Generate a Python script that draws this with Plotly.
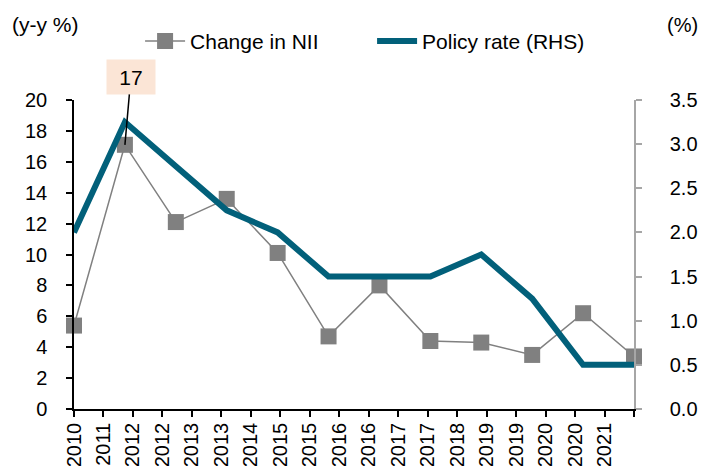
import numpy as np
import plotly.graph_objects as go

years = [2010, 2011, 2012, 2013, 2014, 2015, 2016, 2017, 2018, 2019, 2020, 2021]
nii_change = [5.4, 17.1, 12.1, 13.6, 10.1, 4.7, 8.0, 4.4, 4.3, 3.5, 6.2, 3.4]
policy_rate = [2.0, 3.25, 2.75, 2.25, 2.0, 1.5, 1.5, 1.5, 1.75, 1.25, 0.5, 0.5]
tick_labels = ["2010", "2011", "2012", "2012", "2013", "2013", "2014", "2015", "2015",
               "2016", "2016", "2017", "2017", "2018", "2019", "2019", "2020", "2020", "2021", ""]

FONT = "Liberation Sans, Arial, sans-serif"
TEAL = "#02607A"
GRAY = "#808080"
FS = 20

tickvals = list(np.linspace(years[0], years[-1], len(tick_labels)))

fig = go.Figure()
fig.add_trace(go.Scatter(
    x=years, y=nii_change, name="Change in NII", mode="lines+markers",
    line=dict(color=GRAY, width=1.5),
    marker=dict(symbol="square", size=16, color=GRAY),
    cliponaxis=False, yaxis="y"))
fig.add_trace(go.Scatter(
    x=years, y=policy_rate, name="Policy rate (RHS)", mode="lines",
    line=dict(color=TEAL, width=6),
    cliponaxis=False, yaxis="y2"))

fig.add_annotation(
    x=years[1], y=nii_change[1], xref="x", yref="y",
    text="17", showarrow=True, arrowhead=0, arrowwidth=1.5, arrowcolor="black",
    ax=6, ay=-68, standoff=0, bgcolor="#FBE5D6", width=46, height=32,
    font=dict(family=FONT, size=21, color="black"))

fig.add_annotation(x=-0.114, y=1.243, xref="paper", yref="paper", text="(y-y %)",
                   showarrow=False, xanchor="left", yanchor="middle",
                   font=dict(family=FONT, size=21, color="black"))
fig.add_annotation(x=1.118, y=1.243, xref="paper", yref="paper", text="(%)",
                   showarrow=False, xanchor="right", yanchor="middle",
                   font=dict(family=FONT, size=FS, color="black"))

fig.update_layout(
    width=701, height=458, autosize=False,
    margin=dict(l=66, r=75, t=92, b=57),
    paper_bgcolor="white", plot_bgcolor="white",
    font=dict(family=FONT, size=FS, color="black"),
    showlegend=True,
    legend=dict(orientation="h", x=0.118, y=1.19, xanchor="left", yanchor="middle",
                font=dict(family=FONT, size=21, color="black"),
                bgcolor="rgba(0,0,0,0)", itemwidth=40, tracegroupgap=0,
                entrywidth=177, entrywidthmode="pixels"),
    xaxis=dict(range=[years[0], years[-1]], tickmode="array", tickvals=tickvals,
               ticktext=tick_labels, tickangle=-90, showgrid=False, zeroline=False,
               showline=True, linecolor="black", linewidth=1.5, automargin=False,
               ticks="outside", ticklen=6, tickcolor="black", tickwidth=1.5,
               ticklabelstandoff=-2,
               tickfont=dict(family=FONT, size=FS, color="black")),
    yaxis=dict(range=[0, 20], dtick=2, showgrid=False, zeroline=False,
               showline=True, linecolor="black", linewidth=1.5, automargin=False,
               ticks="outside", ticklen=6, tickcolor="black", tickwidth=1.5,
               ticklabelstandoff=15,
               tickfont=dict(family=FONT, size=FS, color="black")),
    yaxis2=dict(range=[0, 3.5], dtick=0.5, tickformat=".1f", overlaying="y", side="right",
                showgrid=False, zeroline=False, automargin=False,
                showline=True, linecolor="#A6A6A6", linewidth=1.5,
                ticks="outside", ticklen=6, tickcolor="#A6A6A6", tickwidth=1.5,
                ticklabelstandoff=24,
                tickfont=dict(family=FONT, size=FS, color="black")),
)

fig.write_html("out.html")
